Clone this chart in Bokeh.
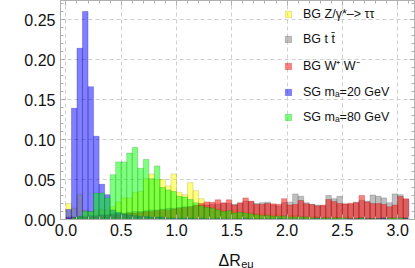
import numpy as np
from bokeh.plotting import figure
from bokeh.layouts import column
from bokeh.models import Range1d, FixedTicker, LinearAxis, Legend, LegendItem
from bokeh.core.properties import value
from bokeh.embed import file_html
from bokeh.resources import INLINE

# ---------------- data ----------------
bin_start = 0.0
bin_width = 0.05

zt = [0.020, 0.014, 0.031, 0.012, 0.010, 0.012, 0.013, 0.012, 0.016, 0.022,
      0.027, 0.027, 0.034, 0.035, 0.051, 0.057, 0.050, 0.050, 0.042, 0.057,
      0.034, 0.031, 0.046, 0.036, 0.026, 0.018, 0.015, 0.013, 0.011, 0.010,
      0.012, 0.009, 0.008, 0.008, 0.007, 0.007, 0.006, 0.006, 0.006, 0.005,
      0.005, 0.005, 0.004, 0.004, 0.004, 0.004, 0.003, 0.003, 0.003, 0.003,
      0.003, 0.003, 0.002, 0.003, 0.002, 0.002, 0.002, 0.002, 0.002, 0.002,
      0.002, 0.002]

tt = [0.003, 0.003, 0.004, 0.004, 0.005, 0.005, 0.006, 0.006, 0.007, 0.008,
      0.008, 0.009, 0.010, 0.010, 0.011, 0.012, 0.012, 0.013, 0.014, 0.014,
      0.015, 0.016, 0.016, 0.017, 0.018, 0.018, 0.019, 0.019, 0.020, 0.020,
      0.019, 0.020, 0.023, 0.022, 0.020, 0.021, 0.0217, 0.018, 0.017, 0.021,
      0.0217, 0.032, 0.029, 0.021, 0.019, 0.018, 0.017, 0.030, 0.026, 0.029,
      0.019, 0.019, 0.0217, 0.024, 0.023, 0.0306, 0.029, 0.027, 0.021, 0.032,
      0.031, 0.025]

ww = [0.002, 0.002, 0.003, 0.003, 0.004, 0.004, 0.005, 0.005, 0.006, 0.006,
      0.007, 0.008, 0.008, 0.009, 0.010, 0.010, 0.011, 0.012, 0.012, 0.013,
      0.014, 0.015, 0.016, 0.018, 0.020, 0.022, 0.0215, 0.0246, 0.021, 0.0246,
      0.018, 0.021, 0.027, 0.023, 0.0187, 0.019, 0.020, 0.0196, 0.019, 0.026,
      0.018, 0.019, 0.0237, 0.0196, 0.0187, 0.017, 0.018, 0.025, 0.0226, 0.020,
      0.0196, 0.0204, 0.021, 0.030, 0.022, 0.020, 0.020, 0.019, 0.016, 0.018,
      0.0287, 0.026]

sg20 = [0.0125, 0.139, 0.214, 0.260, 0.166, 0.104, 0.044, 0.031, 0.012, 0.009,
        0.007, 0.006, 0.005, 0.004, 0.004, 0.003, 0.003, 0.003, 0.002, 0.002,
        0.002, 0.002, 0.002, 0.001, 0.002, 0.001, 0.001, 0.002, 0.001, 0.001,
        0.001, 0.001, 0.002, 0.001, 0.001, 0.001, 0.001, 0.001, 0.002, 0.001,
        0.001, 0.001, 0.001, 0.001, 0.001, 0.002, 0.001, 0.001, 0.001, 0.001,
        0.001, 0.001, 0.001, 0.002, 0.001, 0.001, 0.001, 0.002, 0.001, 0.001,
        0.001, 0.002]

sg80 = [0.000, 0.002, 0.004, 0.010, 0.010, 0.033, 0.033, 0.027, 0.056, 0.072,
        0.072, 0.083, 0.090, 0.064, 0.075, 0.051, 0.067, 0.040, 0.037, 0.035,
        0.029, 0.028, 0.025, 0.021, 0.017, 0.015, 0.014, 0.012, 0.010, 0.011,
        0.008, 0.009, 0.008, 0.007, 0.006, 0.005, 0.005, 0.004, 0.004, 0.004,
        0.003, 0.003, 0.003, 0.003, 0.002, 0.002, 0.002, 0.002, 0.002, 0.002,
        0.002, 0.001, 0.001, 0.002, 0.001, 0.001, 0.001, 0.001, 0.002, 0.002,
        0.002, 0.001]

labels = ["BG Z/\u03b3*\u2013> \u03c4\u03c4", "BG t t\u0304", "BG W\u207a W\u207b",
          "SG m\u2090=20 GeV", "SG m\u2090=80 GeV"]
colors = ["#ffff00", "#808080", "#ff0000", "#0000ff", "#00ff00"]
edge_colors = ["#8a8a00", "#404040", "#8a0000", "#00008a", "#008a00"]

x_ticks = [0.0, 0.5, 1.0, 1.5, 2.0, 2.5, 3.0]
x_tick_labels = ["0.0", "0.5", "1.0", "1.5", "2.0", "2.5", "3.0"]
y_ticks = [0.00, 0.05, 0.10, 0.15, 0.20, 0.25]
y_tick_labels = ["0.00", "0.05", "0.10", "0.15", "0.20", "0.25"]
x_minor = [round(0.1 * i, 2) for i in range(0, 32)]
y_minor = [round(0.01 * i, 2) for i in range(0, 28)]

axis_title = "\u0394R"
axis_title_sub = "e\u03bc"

series = [zt, tt, ww, sg20, sg80]

# ---------------- figure ----------------
FONT = "Liberation Sans"
x_range = Range1d(-0.049, 3.152)
p = figure(width=415, height=244, output_backend="svg", toolbar_location=None,
           title=None, x_range=x_range, y_range=Range1d(0, 0.27375),
           min_border_left=60, min_border_right=1, min_border_top=0,
           min_border_bottom=25)
p.background_fill_color = "white"
p.border_fill_color = "white"
p.outline_line_color = "#b0b0b0"

n = len(zt)
lefts = bin_start + bin_width * np.arange(n)
rights = lefts + bin_width

renderers = []
for vals, col, ec in zip(series, colors, edge_colors):
    r = p.quad(left=lefts, right=rights, bottom=0, top=vals,
               fill_color=col, fill_alpha=0.5,
               line_color=ec, line_alpha=0.35, line_width=0.7)
    renderers.append(r)

def style_axis(ax, ticks, minor, tick_labels, show_labels):
    ax.ticker = FixedTicker(ticks=ticks, minor_ticks=minor)
    ax.axis_line_color = "#b0b0b0"
    ax.major_tick_line_color = "#b0b0b0"
    ax.minor_tick_line_color = "#b0b0b0"
    ax.major_tick_in = 5
    ax.major_tick_out = 0
    ax.minor_tick_in = 3
    ax.minor_tick_out = 0
    if show_labels:
        ax.major_label_overrides = {t: l for t, l in zip(ticks, tick_labels)}
        ax.major_label_text_font = FONT
        ax.major_label_text_font_size = "16px"
        ax.major_label_text_color = "#111111"
    else:
        ax.major_label_overrides = {t: "" for t in ticks}
        ax.major_label_text_font_size = "1px"
        ax.major_label_standoff = 0

xa = p.xaxis[0]
style_axis(xa, x_ticks, x_minor, x_tick_labels, True)
xa.major_label_standoff = 4

ya = p.yaxis[0]
style_axis(ya, y_ticks, y_minor, y_tick_labels, True)
ya.major_label_standoff = 5

top_ax = LinearAxis()
style_axis(top_ax, x_ticks, x_minor, x_tick_labels, False)
p.add_layout(top_ax, "above")
right_ax = LinearAxis()
style_axis(right_ax, y_ticks, y_minor, y_tick_labels, False)
p.add_layout(right_ax, "right")

p.xgrid.ticker = FixedTicker(ticks=x_ticks)
p.ygrid.ticker = FixedTicker(ticks=y_ticks)
for g in (p.xgrid[0], p.ygrid[0]):
    g.grid_line_color = "#cfcfcf"
    g.grid_line_dash = "4 3"
    g.grid_line_width = 1

legend = Legend(items=[LegendItem(label=l, renderers=[r]) for l, r in zip(labels, renderers)],
                location=(224, 95), padding=0, margin=0, spacing=11,
                glyph_width=8, glyph_height=8, label_height=14, label_standoff=11,
                label_text_font=FONT, label_text_font_size="12.5px",
                label_text_color="#111111",
                background_fill_alpha=0, border_line_color=None)
p.add_layout(legend)

# ---------------- axis title strip ----------------
p2 = figure(width=415, height=24, output_backend="svg", toolbar_location=None,
            title=None, x_range=x_range, y_range=Range1d(0, 24),
            x_axis_location=None, y_axis_location=None,
            min_border_left=60, min_border_right=1, min_border_top=0,
            min_border_bottom=0)
p2.outline_line_color = None
p2.grid.visible = False
p2.text(x=[1.38], y=[7.6], text=[axis_title], text_font=value(FONT),
        text_font_size="16px", text_color="#111111", text_baseline="alphabetic")
p2.text(x=[1.585], y=[5.0], text=[axis_title_sub], text_font=value(FONT),
        text_font_size="11px", text_color="#111111", text_baseline="alphabetic")

layout = column(p, p2, spacing=0)
open("out.html", "w").write(file_html(layout, INLINE))
